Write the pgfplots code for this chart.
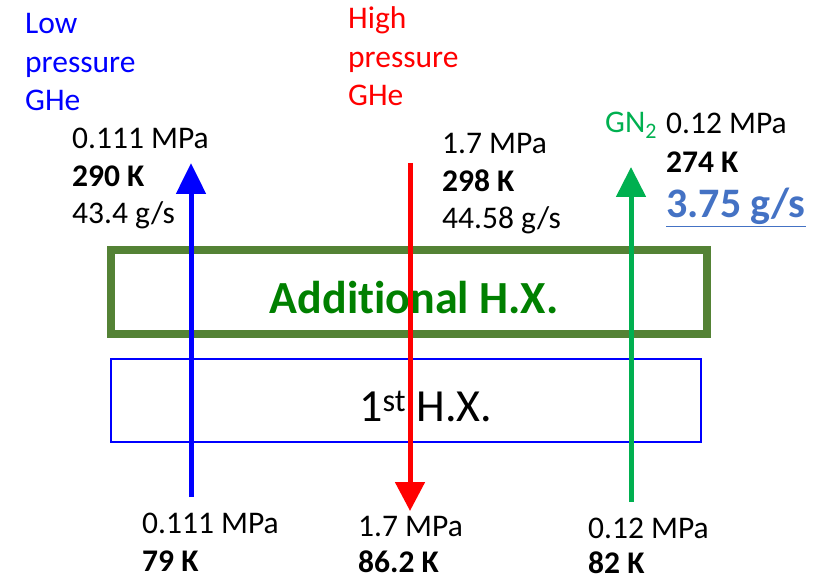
\documentclass[border=0pt]{standalone}
\usepackage{fontspec}
\setmainfont{Carlito}[Ligatures=NoCommon]
\usepackage{pgfplots}
\pgfplotsset{compat=1.18}
\usetikzlibrary{arrows.meta}
\definecolor{myblue}{RGB}{0,0,255}
\definecolor{myred}{RGB}{255,0,0}
\definecolor{mygreen}{RGB}{0,176,80}
\definecolor{boxgreen}{RGB}{84,130,53}
\definecolor{txtgreen}{RGB}{0,128,0}
\definecolor{linkblue}{RGB}{68,114,196}
\newcommand{\fs}{\fontsize{31.5}{38}\selectfont}
\begin{document}
\begin{tikzpicture}
\begin{axis}[
  width=825pt, height=580pt, scale only axis,
  xmin=0, xmax=825, ymin=0, ymax=580, y dir=reverse,
  hide axis, clip=false,
]
% boxes
\addplot[boxgreen, line width=8pt, mark=none] coordinates {(111,250) (707,250) (707,334) (111,334) (111,250)} -- cycle;
\addplot[myblue, line width=2pt, mark=none] coordinates {(111,359) (701,359) (701,442) (111,442) (111,359)} -- cycle;
% box texts
\node[anchor=base, inner sep=0, text=txtgreen, font=\fontsize{46}{54}\selectfont\bfseries] at (axis cs:414,313) {Additional H.X.};
\node[anchor=base west, inner sep=0, font=\fontsize{46}{54}\selectfont] at (axis cs:359,421) {1\textsuperscript{st} H.X.};
% arrows
\addplot[myblue, line width=5pt, mark=none, -{Triangle[width=29pt,length=31pt]}] coordinates {(191,497) (191,163)};
\addplot[myred, line width=5pt, mark=none, -{Triangle[width=29pt,length=29pt]}] coordinates {(410,163) (410,511)};
\addplot[mygreen, line width=5pt, mark=none, -{Triangle[width=29pt,length=30pt]}] coordinates {(631,502) (631,167)};
% top-left labels
\node[anchor=base west, inner sep=0, text=myblue, font=\fs] at (axis cs:25,34) {Low};
\node[anchor=base west, inner sep=0, text=myblue, font=\fs] at (axis cs:25,73) {pressure};
\node[anchor=base west, inner sep=0, text=myblue, font=\fs] at (axis cs:25,111) {GHe};
\node[anchor=base west, inner sep=0, font=\fs] at (axis cs:72,149) {0.111 MPa};
\node[anchor=base west, inner sep=0, font=\fs\bfseries] at (axis cs:72,187) {290 K};
\node[anchor=base west, inner sep=0, font=\fs] at (axis cs:72,224) {43.4 g/s};
% red labels
\node[anchor=base west, inner sep=0, text=myred, font=\fs] at (axis cs:348,29) {High};
\node[anchor=base west, inner sep=0, text=myred, font=\fs] at (axis cs:348,68) {pressure};
\node[anchor=base west, inner sep=0, text=myred, font=\fs] at (axis cs:348,106) {GHe};
\node[anchor=base west, inner sep=0, font=\fs] at (axis cs:442,154) {1.7 MPa};
\node[anchor=base west, inner sep=0, font=\fs\bfseries] at (axis cs:442,192) {298 K};
\node[anchor=base west, inner sep=0, font=\fs] at (axis cs:442,229) {44.58 g/s};
% green labels
\node[anchor=base west, inner sep=0, text=mygreen, font=\fs] at (axis cs:605,133) {GN\textsubscript{2}};
\node[anchor=base west, inner sep=0, font=\fs] at (axis cs:666,134) {0.12 MPa};
\node[anchor=base west, inner sep=0, font=\fs\bfseries] at (axis cs:666,173) {274 K};
\node[anchor=base west, inner sep=0, text=linkblue, font=\fontsize{42}{50}\selectfont\bfseries] at (axis cs:666,218) {\underline{3.75 g/s}};
% bottom labels
\node[anchor=base west, inner sep=0, font=\fs] at (axis cs:142,533) {0.111 MPa};
\node[anchor=base west, inner sep=0, font=\fs\bfseries] at (axis cs:142,571) {79 K};
\node[anchor=base west, inner sep=0, font=\fs] at (axis cs:358,536) {1.7 MPa};
\node[anchor=base west, inner sep=0, font=\fs\bfseries] at (axis cs:358,572) {86.2 K};
\node[anchor=base west, inner sep=0, font=\fs] at (axis cs:588,538) {0.12 MPa};
\node[anchor=base west, inner sep=0, font=\fs\bfseries] at (axis cs:588,573) {82 K};
\end{axis}
\pgfresetboundingbox
\path (current axis.south west) rectangle (current axis.north east);
\end{tikzpicture}
\end{document}
